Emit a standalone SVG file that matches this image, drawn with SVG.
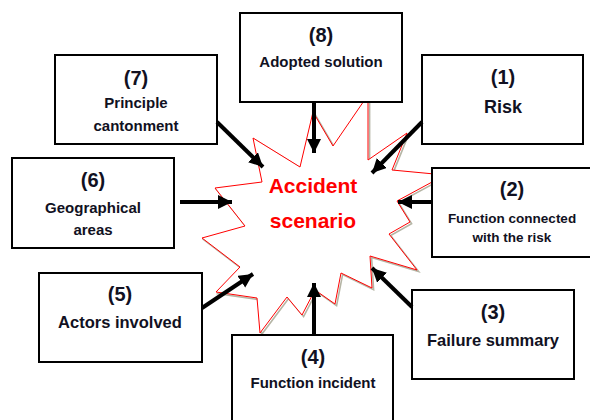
<svg xmlns="http://www.w3.org/2000/svg" width="590" height="420" viewBox="0 0 590 420">
  <style>
    .box { fill: #ffffff; stroke: #000000; stroke-width: 2; }
    .num { font-family: "Liberation Sans", Arial, sans-serif; font-weight: bold; font-size: 20px; fill: #111122; text-anchor: middle; }
    .lbl { font-family: "Liberation Sans", Arial, sans-serif; font-weight: bold; font-size: 15px; fill: #111122; text-anchor: middle; }
    .arrow { stroke: #000000; stroke-width: 4; fill: none; marker-end: url(#ah); }
    .center { font-family: "Liberation Sans", Arial, sans-serif; font-weight: bold; font-size: 21px; fill: #ff0000; text-anchor: middle; }
  </style>
  <defs>
    <marker id="ah" markerUnits="userSpaceOnUse" markerWidth="16" markerHeight="16" refX="14" refY="7" orient="auto">
      <path d="M0,0 L14,7 L0,14 Z" fill="#000000"/>
    </marker>
  </defs>
  <rect width="590" height="420" fill="#ffffff"/>

  <g id="star">
    <polygon transform="translate(1.6,1.6)" fill="none" stroke="#b5b5a5" stroke-width="1.6" points="313,112 333,146 368,95 368,160 407,133 392,170 445,175 397,201 410,222 389,234 417,270 370,256 372,288 341,273 335,304 315,290 302,315 287,297 260,333 257,298 216,292 240,267 202,238 245,226 215,188 262,182 253,138 300,167"/>
    <polygon fill="#ffffff" stroke="#ff0000" stroke-width="1" points="313,112 333,146 368,95 368,160 407,133 392,170 445,175 397,201 410,222 389,234 417,270 370,256 372,288 341,273 335,304 315,290 302,315 287,297 260,333 257,298 216,292 240,267 202,238 245,226 215,188 262,182 253,138 300,167"/>
    <text class="center" x="313" y="193">Accident</text>
    <text class="center" x="313" y="228">scenario</text>
  </g>

  <g id="n8">
    <rect class="box" x="240" y="13" width="162" height="89"/>
    <text class="num" x="321" y="42">(8)</text>
    <text class="lbl" x="321" y="67">Adopted solution</text>
  </g>
  <g id="n7">
    <rect class="box" x="55" y="55" width="162" height="89"/>
    <text class="num" x="136" y="85">(7)</text>
    <text class="lbl" x="136" y="108">Principle</text>
    <text class="lbl" x="136" y="131">cantonment</text>
  </g>
  <g id="n1">
    <rect class="box" x="422" y="55" width="161" height="89"/>
    <text class="num" x="503" y="84">(1)</text>
    <text class="lbl" x="503" y="113" style="font-size:18px">Risk</text>
  </g>
  <g id="n6">
    <rect class="box" x="12" y="158" width="162" height="90"/>
    <text class="num" x="93" y="187">(6)</text>
    <text class="lbl" x="93" y="213">Geographical</text>
    <text class="lbl" x="93" y="235">areas</text>
  </g>
  <g id="n2">
    <rect class="box" x="432" y="168" width="162" height="89"/>
    <text class="num" x="512" y="196">(2)</text>
    <text class="lbl" x="512" y="223" style="font-size:13.5px">Function connected</text>
    <text class="lbl" x="512" y="242" style="font-size:13.5px">with the risk</text>
  </g>
  <g id="n5">
    <rect class="box" x="39" y="273" width="163" height="89"/>
    <text class="num" x="120" y="301">(5)</text>
    <text class="lbl" x="120" y="328" style="font-size:16.5px">Actors involved</text>
  </g>
  <g id="n3">
    <rect class="box" x="412" y="290" width="162" height="89"/>
    <text class="num" x="493" y="319">(3)</text>
    <text class="lbl" x="493" y="346" style="font-size:16.5px">Failure summary</text>
  </g>
  <g id="n4">
    <rect class="box" x="232" y="335" width="161" height="90"/>
    <text class="num" x="313" y="364">(4)</text>
    <text class="lbl" x="313" y="388">Function incident</text>
  </g>

  <g id="connectors">
    <line class="arrow" x1="314" y1="102" x2="314" y2="153"/>
    <line class="arrow" x1="217" y1="122" x2="263" y2="167"/>
    <line class="arrow" x1="422" y1="122" x2="372" y2="173"/>
    <line class="arrow" x1="180" y1="202" x2="232" y2="202"/>
    <line class="arrow" x1="432" y1="202" x2="398" y2="202"/>
    <line class="arrow" x1="202" y1="308" x2="253" y2="274"/>
    <line class="arrow" x1="412" y1="307" x2="372" y2="268"/>
    <line class="arrow" x1="314" y1="335" x2="314" y2="283"/>
  </g>
</svg>
